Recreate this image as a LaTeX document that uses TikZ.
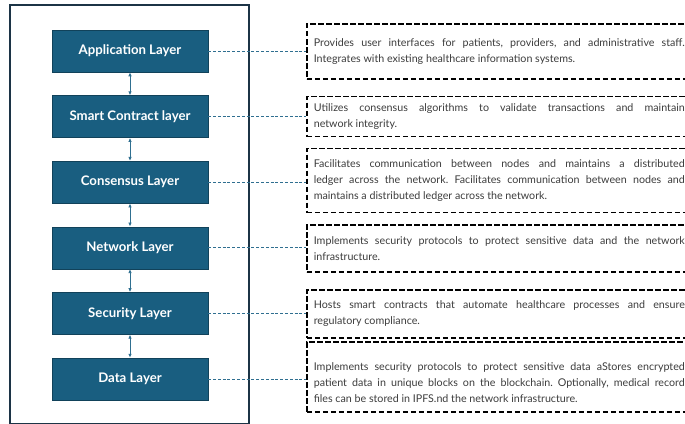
\documentclass[tikz,border=0pt]{standalone}
\usepackage{fontspec}
\setmainfont{Lato}
\frenchspacing
\usetikzlibrary{arrows.meta}
\definecolor{layerfill}{HTML}{195E80}
\definecolor{frameline}{HTML}{1C3446}
\definecolor{linkline}{HTML}{2F6F90}
\definecolor{desctext}{HTML}{3C3C3C}
\tikzset{
  layerbox/.style={fill=layerfill, draw=layerfill!70!black, line width=0.5pt,
    minimum width=156pt, minimum height=42pt, text=white,
    font=\fontsize{13.2}{15}\selectfont\bfseries, inner sep=0pt},
  descbox/.style={draw=black, line width=1.6pt, dash pattern=on 5.5pt off 2.5pt,
    anchor=west, text width=371pt, align=justify, inner xsep=7pt, inner ysep=0pt,
    text=desctext, font=\fontsize{10.7}{16}\selectfont},
  linkdash/.style={draw=linkline, line width=0.9pt, dash pattern=on 3pt off 1.8pt},
  updown/.style={draw=linkline, line width=0.9pt, {Latex[length=4pt,width=3.5pt]}-{Latex[length=4pt,width=3.5pt]}},
}
\begin{document}
\begin{tikzpicture}[x=1pt, y=-1pt]
  \useasboundingbox (0,0) rectangle (685,423);
  \clip (0,0) rectangle (685,423);
  % outer frame round the layer stack
  \draw[frameline, line width=2pt] (10,5) rectangle (249,423.5);

  % the layer stack
  \node[layerbox] (L1) at (130,51)    {Application Layer};
  \node[layerbox] (L2) at (130,116.6) {Smart Contract layer};
  \node[layerbox] (L3) at (130,182.2) {Consensus Layer};
  \node[layerbox] (L4) at (130,247.8) {Network Layer};
  \node[layerbox] (L5) at (130,313.4) {Security Layer};
  \node[layerbox] (L6) at (130,379)   {Data Layer};

  \foreach \a/\b in {L1/L2, L2/L3, L3/L4, L4/L5, L5/L6}
    \draw[updown] (\a.south) -- (\b.north);

  % descriptions, broken where each line should end
  \node[descbox, minimum height=55pt] (D1) at (306,51.5)
    {Provides user interfaces for patients, providers, and administrative staff.\linebreak
     Integrates with existing healthcare information systems.};
  \node[descbox, minimum height=40pt] (D2) at (306,116.5)
    {Utilizes consensus algorithms to validate transactions and maintain\linebreak
     network integrity.};
  \node[descbox, minimum height=64pt] (D3) at (306,180.5)
    {Facilitates communication between nodes and maintains a distributed\linebreak
     ledger across the network. Facilitates communication between nodes and\linebreak
     maintains a distributed ledger across the network.};
  \node[descbox, minimum height=47pt] (D4) at (306,248.5)
    {Implements security protocols to protect sensitive data and the network\linebreak
     infrastructure.};
  \node[descbox, minimum height=48pt] (D5) at (306,314)
    {Hosts smart contracts that automate healthcare processes and ensure\linebreak
     regulatory compliance.};
  % a tall strut on the first line sets this text a little below the middle
  \node[descbox, minimum height=70pt] (D6) at (306,377)
    {\rule{0pt}{20pt}Implements security protocols to protect sensitive data aStores encrypted\linebreak
     patient data in unique blocks on the blockchain. Optionally, medical record\linebreak
     files can be stored in IPFS.nd the network infrastructure.};

  % links from each layer to its description
  \foreach \i in {1,...,6}
    \draw[linkdash] (L\i.east) -- (L\i.east -| D\i.west);
\end{tikzpicture}
\end{document}
